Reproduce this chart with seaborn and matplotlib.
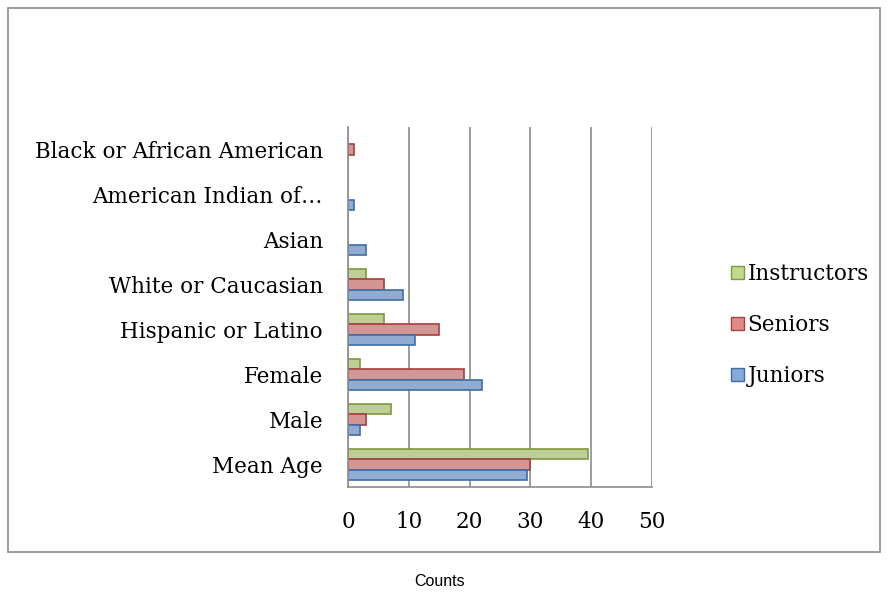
import pandas as pd
import seaborn as sns
import matplotlib.pyplot as plt
from matplotlib.patches import Rectangle, Patch

# Data
categories = ['Mean Age', 'Male', 'Female', 'Hispanic or Latino',
              'White or Caucasian', 'Asian', 'American Indian of…',
              'Black or African American']
juniors = [29.4, 2, 22, 11, 9, 3, 1, 0]
seniors = [30, 3, 19, 15, 6, 0, 0, 1]
instructors = [39.4, 7, 2, 6, 3, 0, 0, 0]
groups = ['Instructors', 'Seniors', 'Juniors']

df = pd.DataFrame({'category': categories, 'Juniors': juniors,
                   'Seniors': seniors, 'Instructors': instructors})
df_long = df.melt(id_vars='category', var_name='group', value_name='count')

faces = {'Instructors': '#c2d88c', 'Seniors': '#df8c89', 'Juniors': '#86abdb'}
edges = {'Instructors': '#7d9a3c', 'Seniors': '#a73f3c', 'Juniors': '#3f6ca8'}

sns.set_style('white')
plt.rcParams['font.family'] = ['DejaVu Serif']
plt.rcParams['text.color'] = 'black'
plt.rcParams['xtick.color'] = 'black'
plt.rcParams['ytick.color'] = 'black'

fig = plt.figure(figsize=(8.88, 5.92), dpi=100)
ax = fig.add_axes([348 / 888, 1 - 487 / 592, 304 / 888, 360 / 592])

sns.barplot(data=df_long, y='category', x='count', hue='group',
            order=categories[::-1], hue_order=groups, palette=faces,
            orient='h', width=0.7, ax=ax, legend=False)

# color each bar's edge to match its series, hide empty bars
for container, g in zip(ax.containers, groups):
    for bar in container:
        bar.set_edgecolor(edges[g])
        bar.set_linewidth(1.2)
        if bar.get_width() == 0:
            bar.set_visible(False)

ax.set_xlim(0, 50)
ax.set_ylim(7.5, -0.5)
ax.set_xticks(range(0, 51, 10))
ax.grid(axis='x', color='#8c8c8c', linewidth=1.2)
ax.grid(axis='y', visible=False)
ax.set_axisbelow(True)
for s in ['top', 'right']:
    ax.spines[s].set_visible(False)
ax.spines['left'].set_color('#8c8c8c')
ax.spines['bottom'].set_color('#8c8c8c')
ax.spines['left'].set_linewidth(1.2)
ax.spines['bottom'].set_linewidth(1.2)
ax.tick_params(axis='x', length=0, pad=17, labelsize=15.5, labelcolor='black')
ax.tick_params(axis='y', length=0, pad=18, labelsize=15.5, labelcolor='black')
ax.set_xlabel('')
ax.set_ylabel('')

handles = [Patch(facecolor=faces[g], edgecolor=edges[g], label=g) for g in groups]
fig.legend(handles=handles, loc='center left', bbox_to_anchor=(712 / 888, 1 - 325 / 592),
           frameon=False, fontsize=15.5, handlelength=0.6, handleheight=0.6,
           handletextpad=0.15, labelspacing=1.35)

fig.text(0.495, 1 - 581 / 592, 'Counts', ha='center', va='center',
         family='Liberation Sans', fontsize=11.5, color='black')

# outer chart border
fig.patches.append(Rectangle((8 / 888, 1 - 552 / 592), 872 / 888, 544 / 592,
                             transform=fig.transFigure, fill=False,
                             edgecolor='#8c8c8c', linewidth=1.2))

fig.savefig('out.png', dpi=100)
